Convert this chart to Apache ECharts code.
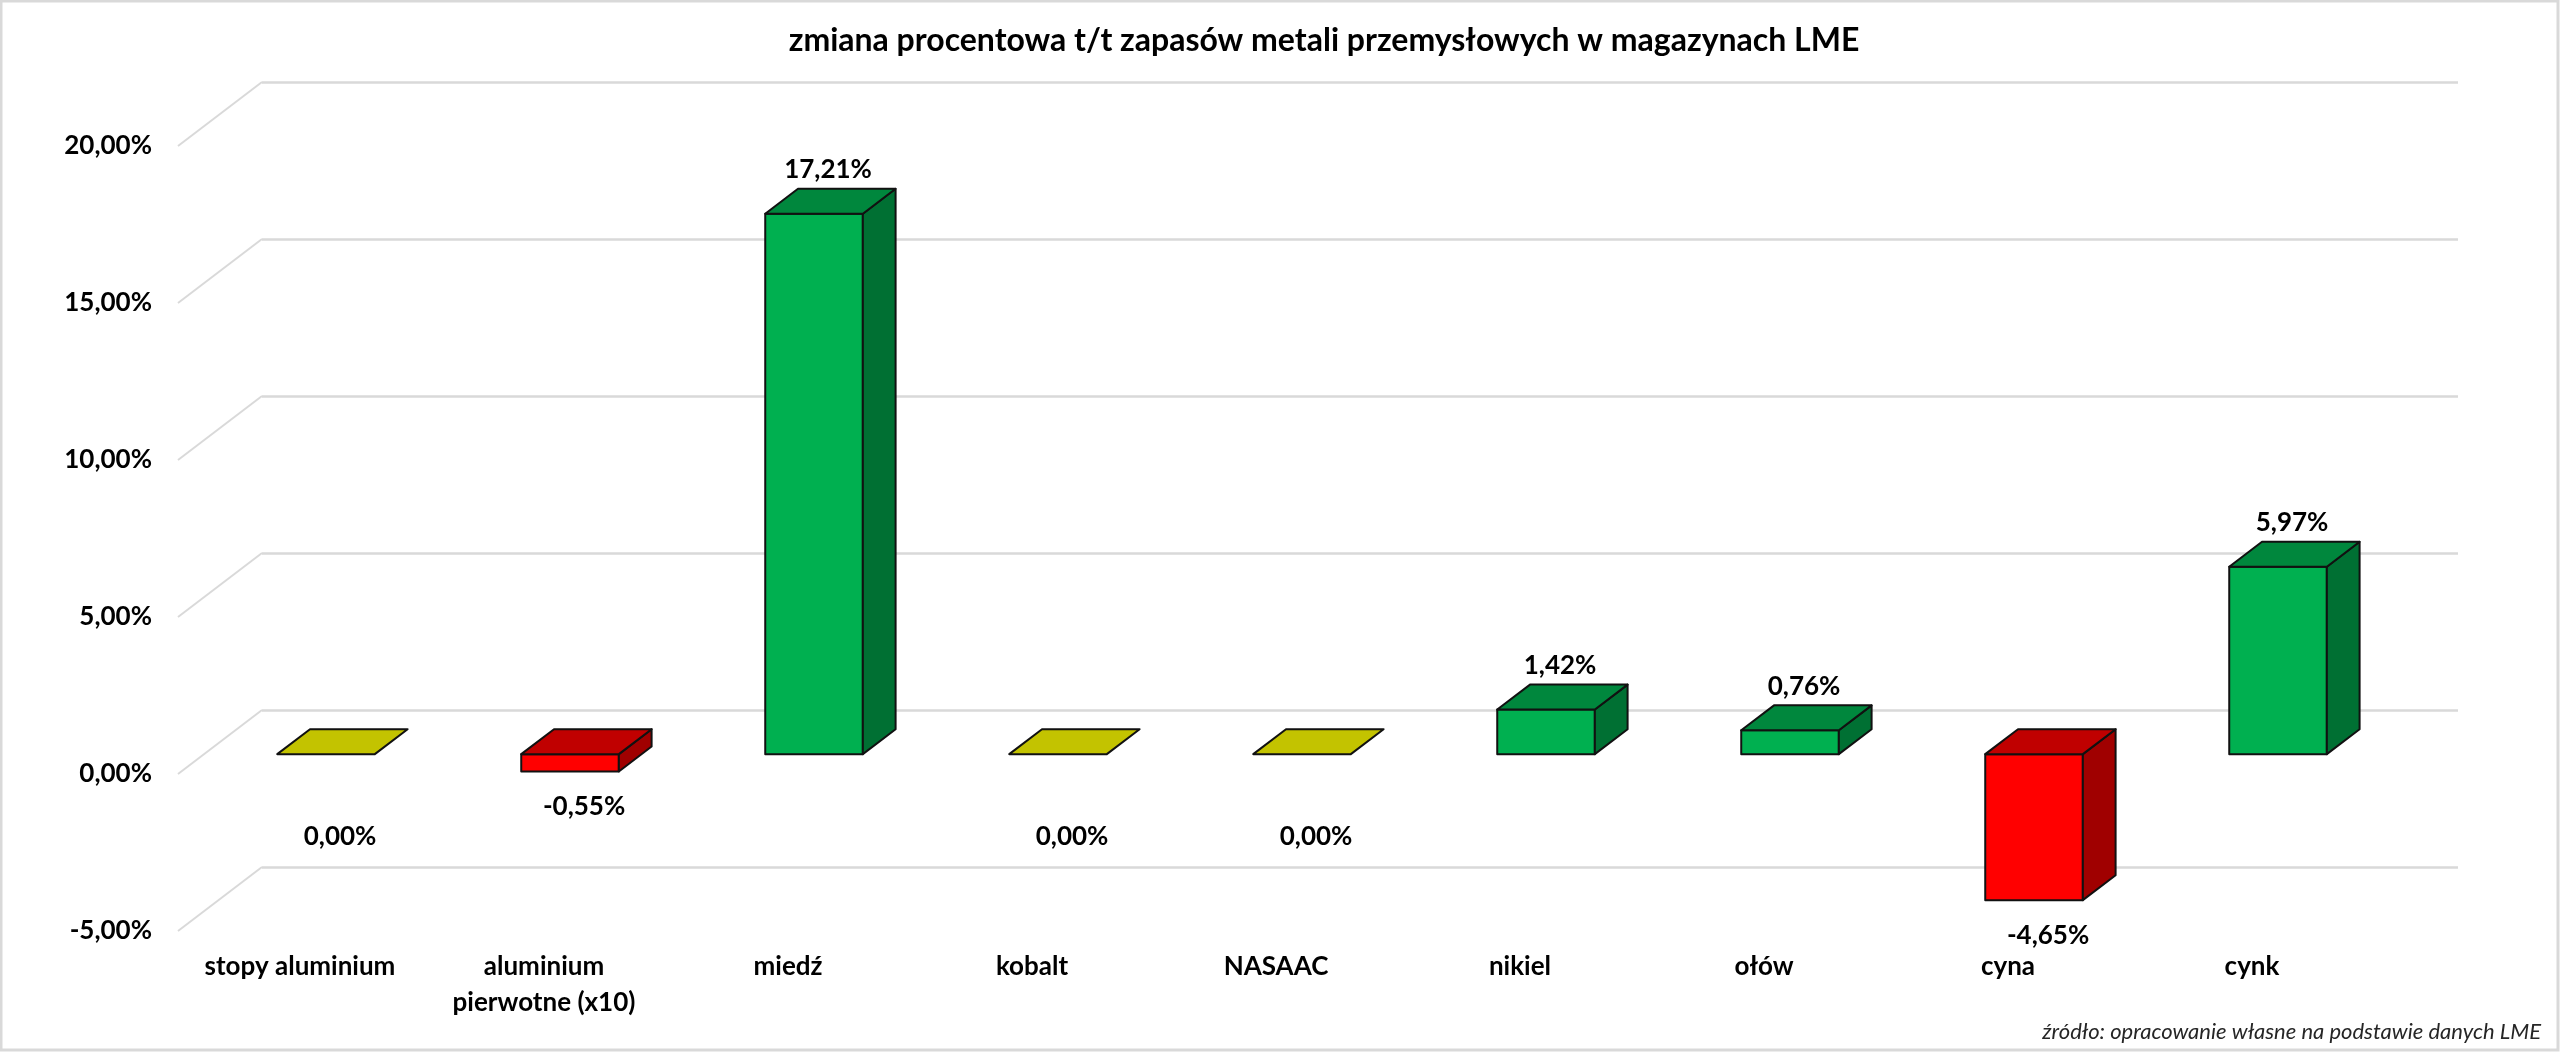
<!DOCTYPE html>
<html>
<head>
<meta charset="utf-8">
<title>Zapasy LME</title>
<script src="https://cdn.jsdelivr.net/npm/echarts@6/dist/echarts.min.js"></script>
<style>
  html, body { margin: 0; padding: 0; background: #fff; }
  #main { width: 2560px; height: 1059px; }
</style>
</head>
<body>
<div id="main"></div>
<script type="text/javascript">
var categories = ['stopy aluminium', 'aluminium\npierwotne (x10)', 'miedź', 'kobalt', 'NASAAC', 'nikiel', 'ołów', 'cyna', 'cynk'];
var changes = [0, -0.55, 17.21, 0, 0, 1.42, 0.76, -4.65, 5.97];
var yTicks = [-5, 0, 5, 10, 15, 20];

var FONT = 'Lato';
// oblique "3D" depth of the back wall, in px
var DX = 84, DY = -64;
// bars sit between these fractions of the wall depth
var FRONT = 0.31, BACK = 0.70;

var colors = {
    pos:  { front: '#00B050', top: '#00873D', side: '#007033' },
    neg:  { front: '#FF0000', top: '#C00000', side: '#A00000' },
    zero: { front: '#C3C300', top: '#C3C300', side: '#A0A000' }
};

function pct(v) {
    return v.toFixed(2).replace('.', ',') + '%';
}

var myChart = echarts.init(document.getElementById('main'));

function renderBar(params, api) {
    var i = api.value(0), v = api.value(1);
    var p0 = api.coord([i, 0]);
    var p1 = api.coord([i, v]);
    var w = api.size([1, 0])[0] * 0.4;
    var fx = DX * FRONT, fy = DY * FRONT;
    var ddx = DX * (BACK - FRONT), ddy = DY * (BACK - FRONT);
    var cx = p0[0] + fx;
    var left = cx - w / 2, right = cx + w / 2;
    var yTop = Math.min(p0[1], p1[1]) + fy;
    var yBot = Math.max(p0[1], p1[1]) + fy;
    var c = v > 0 ? colors.pos : (v < 0 ? colors.neg : colors.zero);
    var edge = { stroke: '#111', lineWidth: 2, lineJoin: 'round' };
    var kids = [];
    if (yBot - yTop > 0.5) {
        kids.push({ type: 'polygon', shape: { points: [[left, yTop], [right, yTop], [right, yBot], [left, yBot]] },
            style: Object.assign({ fill: c.front }, edge) });
        kids.push({ type: 'polygon', shape: { points: [[right, yTop], [right + ddx, yTop + ddy], [right + ddx, yBot + ddy], [right, yBot]] },
            style: Object.assign({ fill: c.side }, edge) });
    }
    kids.push({ type: 'polygon', shape: { points: [[left, yTop], [right, yTop], [right + ddx, yTop + ddy], [left + ddx, yTop + ddy]] },
        style: Object.assign({ fill: c.top }, edge) });

    var ly = v > 0 ? yTop + ddy - 19 : (v < 0 ? yBot + 35 : yBot + 82);
    kids.push({ type: 'text', x: cx + 14, y: ly,
        style: { text: pct(v), fill: '#000', font: 'bold 26px ' + FONT, align: 'center', verticalAlign: 'middle' } });
    return { type: 'group', children: kids };
}

function renderSideLine(params, api) {
    var p = api.coord([0, api.value(1)]);
    var x = params.coordSys.x;
    return { type: 'line', shape: { x1: x, y1: p[1], x2: x + DX, y2: p[1] + DY },
        style: { stroke: '#D9D9D9', lineWidth: 2 } };
}

var option = {
    animation: false,
    backgroundColor: '#fff',
    graphic: [
        { type: 'rect', shape: { x: 1, y: 1, width: 2557, height: 1049 },
          style: { fill: 'none', stroke: '#D9D9D9', lineWidth: 3 }, z: 0 },
        { type: 'text', x: 1324, y: 41,
          style: { text: 'zmiana procentowa t/t zapasów metali przemysłowych w magazynach LME',
                   font: 'bold 32px ' + FONT, fill: '#000', align: 'center', verticalAlign: 'middle' } },
        { type: 'text', x: 2541, y: 1032,
          style: { text: 'źródło: opracowanie własne na podstawie danych LME',
                   font: 'italic 22px ' + FONT, fill: '#262626', align: 'right', verticalAlign: 'middle' } }
    ],
    grid: [
        { left: 178, right: 186, top: 146, bottom: 128 },           // front plane
        { left: 178 + DX, right: 186 - DX, top: 146 + DY, bottom: 128 - DY } // back wall
    ],
    xAxis: [
        {
            type: 'category', gridIndex: 0, data: categories,
            axisLine: { show: false }, axisTick: { show: false },
            axisLabel: { interval: 0, margin: 18, color: '#000', fontFamily: FONT, fontWeight: 'bold', fontSize: 26, lineHeight: 36 }
        },
        { type: 'category', gridIndex: 1, data: categories, show: false }
    ],
    yAxis: [
        {
            type: 'value', gridIndex: 0, min: -5, max: 20, interval: 5,
            axisLine: { show: false }, axisTick: { show: false }, splitLine: { show: false },
            axisLabel: { margin: 26, color: '#000', fontFamily: FONT, fontWeight: 'bold', fontSize: 26,
                         formatter: function (v) { return pct(v); } }
        },
        {
            type: 'value', gridIndex: 1, min: -5, max: 20, interval: 5,
            axisLine: { show: false }, axisTick: { show: false }, axisLabel: { show: false },
            splitLine: { show: true, lineStyle: { color: '#D9D9D9', width: 2.5 } }
        }
    ],
    series: [
        {
            type: 'custom', xAxisIndex: 0, yAxisIndex: 0, z: 1,
            renderItem: renderSideLine,
            data: yTicks.map(function (t) { return [0, t]; })
        },
        {
            type: 'custom', xAxisIndex: 0, yAxisIndex: 0, z: 5,
            renderItem: renderBar,
            data: changes.map(function (v, i) { return [i, v]; })
        }
    ]
};

myChart.setOption(option);
</script>
</body>
</html>
